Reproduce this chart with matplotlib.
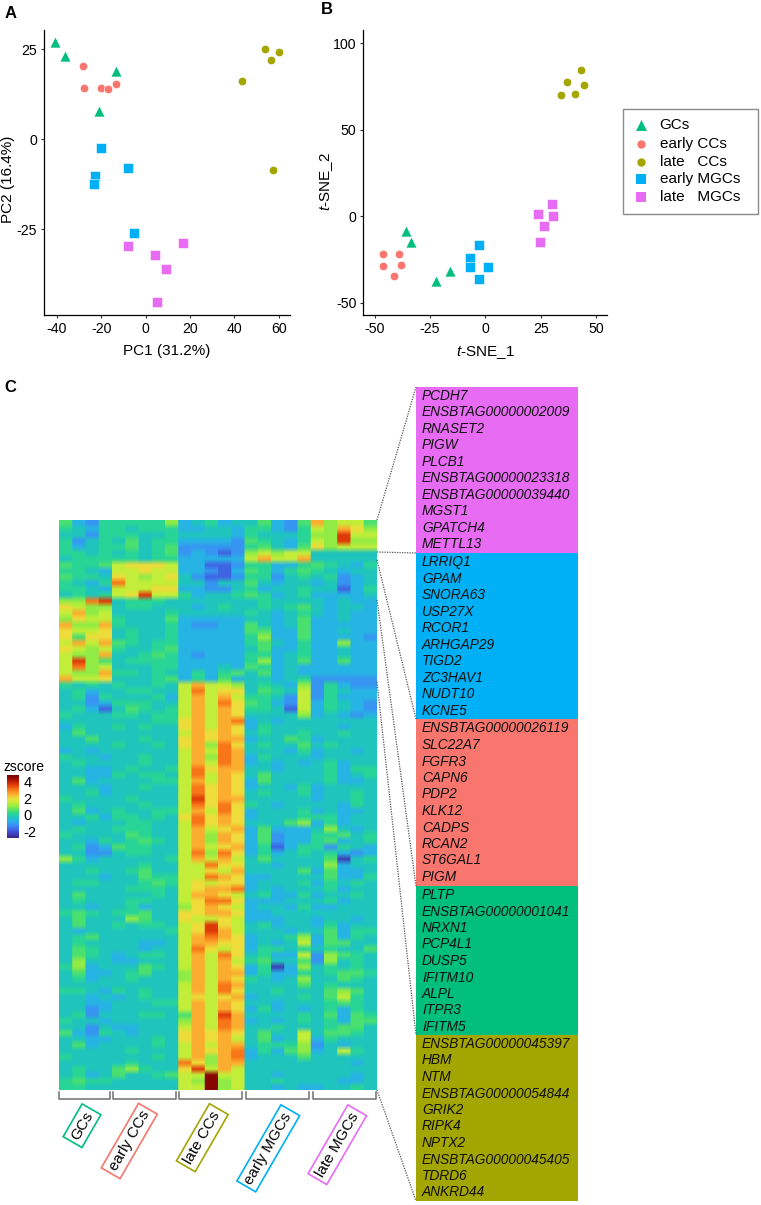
import numpy as np
import matplotlib
matplotlib.use("Agg")
import matplotlib.pyplot as plt
from matplotlib.colors import LinearSegmentedColormap, Normalize
from matplotlib.patches import Rectangle

plt.rcParams['font.family'] = ['Liberation Sans', 'DejaVu Sans']
plt.rcParams['mathtext.fontset'] = 'custom'
plt.rcParams['mathtext.it'] = 'Liberation Sans:italic'
plt.rcParams['mathtext.rm'] = 'Liberation Sans'
plt.rcParams['axes.unicode_minus'] = False

W, H = 761, 1205

# ------------------------------------------------------------------ data
groups = ['GCs', 'early CCs', 'late   CCs', 'early MGCs', 'late   MGCs']
heat_labels = ['GCs', 'early CCs', 'late CCs', 'early MGCs', 'late MGCs']
colors = ['#00BF7D', '#F8766D', '#A3A500', '#00B0F6', '#E76BF3']
markers = ['^', 'o', 'o', 's', 's']
sizes = [62, 36, 36, 46, 46]

pc1 = [[-40.6, -36.1, -13.3, -21.1],
       [-28.3, -27.6, -19.9, -16.9, -13.5],
       [53.6, 56.4, 60.1, 43.2, 57.2],
       [-19.9, -8.1, -22.8, -23.4, -5.2],
       [-7.9, 4.4, 17.0, 9.3, 5.3]]
pc2 = [[27.0, 23.2, 19.0, 7.8],
       [20.5, 14.3, 14.3, 13.9, 15.5],
       [25.0, 22.0, 24.2, 16.1, -8.4],
       [-2.3, -8.0, -10.3, -12.5, -26.0],
       [-29.6, -32.1, -28.9, -36.0, -45.2]]
tsne1 = [[-36.0, -33.7, -16.0, -22.3],
         [-46.2, -39.2, -46.2, -38.1, -41.4],
         [43.4, 37.0, 44.6, 40.4, 34.2],
         [-2.7, -7.1, -6.9, 1.4, -2.7],
         [30.3, 23.9, 30.4, 26.4, 24.5]]
tsne2 = [[-8.7, -14.8, -31.4, -37.2],
         [-21.6, -21.6, -28.7, -28.1, -34.7],
         [84.6, 77.5, 75.6, 70.8, 69.8],
         [-16.8, -23.9, -29.1, -29.1, -36.2],
         [6.9, 1.3, 0.2, -5.8, -14.7]]

magenta_genes = ['PCDH7', 'ENSBTAG00000002009', 'RNASET2', 'PIGW', 'PLCB1',
                 'ENSBTAG00000023318', 'ENSBTAG00000039440', 'MGST1', 'GPATCH4', 'METTL13']
blue_genes = ['LRRIQ1', 'GPAM', 'SNORA63', 'USP27X', 'RCOR1', 'ARHGAP29', 'TIGD2',
              'ZC3HAV1', 'NUDT10', 'KCNE5']
salmon_genes = ['ENSBTAG00000026119', 'SLC22A7', 'FGFR3', 'CAPN6', 'PDP2', 'KLK12',
                'CADPS', 'RCAN2', 'ST6GAL1', 'PIGM']
green_genes = ['PLTP', 'ENSBTAG00000001041', 'NRXN1', 'PCP4L1', 'DUSP5', 'IFITM10',
               'ALPL', 'ITPR3', 'IFITM5']
olive_genes = ['ENSBTAG00000045397', 'HBM', 'NTM', 'ENSBTAG00000054844', 'GRIK2',
               'RIPK4', 'NPTX2', 'ENSBTAG00000045405', 'TDRD6', 'ANKRD44']

# z-score levels, one per hex digit in the heat rows
z_levels = [-2.4, -1.8, -1.2, -0.7, -0.3, 0.1, 0.5, 1.0, 1.5, 2.0, 2.5, 3.1, 3.7, 4.6]

# columns: GCs(4) earlyCC(5) lateCC(5) earlyMGC(5) lateMGC(5)
heat_rows = [
    "6325 55557 34534 46326 A7886",
    "5435 54555 33443 55325 87A97",
    "4425 55445 44443 54445 77C88",
    "5245 46455 33332 65435 87C77",
    "5345 56456 22222 56436 97888",
    "5545 45456 23212 78788 44444",
    "4555 55455 33333 8A88A 44444",
    "6556 89998 33112 55335 65435",
    "5543 88988 33213 65356 54344",
    "6554 98789 42112 55245 45234",
    "5435 B8888 44244 64344 34234",
    "5543 88899 33224 53445 44135",
    "4545 89C88 53445 65345 33334",
    "77BC 45554 44444 45444 43433",
    "9877 45544 43454 45456 43443",
    "8A78 44445 44444 54345 43433",
    "7988 54446 33333 44346 33433",
    "A77A 54445 32233 64346 33333",
    "9889 45445 33333 66336 33433",
    "9699 45445 33333 57336 33332",
    "8A8A 65455 33333 56435 33733",
    "9878 54456 33333 46335 33433",
    "877A 44565 32333 55345 33433",
    "8C76 45555 33333 57346 33633",
    "8B78 44455 33343 65343 33333",
    "877A 55454 35356 46343 33333",
    "A889 44456 35363 44345 22222",
    "5454 54454 8A887 45437 25322",
    "4534 45544 8B899 46548 25433",
    "4525 44453 8A8A8 55428 25333",
    "4423 55544 8A8B9 65328 35432",
    "4531 46545 8A8A9 55418 35432",
    "5444 55455 8A8A9 44447 34323",
    "4444 44455 9A8AB 34344 44444",
    "3544 54544 9A8A9 35444 44344",
    "4644 44444 8A9A9 45445 44544",
    "4464 44544 9A9AA 34465 34444",
    "4444 54454 9A7B9 45446 45444",
    "3434 44444 8A8BA 44435 34434",
    "5443 44544 8A7BA 35444 34444",
    "4544 44544 8A8BA 34343 45344",
    "4433 45445 8B9AA 44344 45355",
    "4433 54554 8B8A9 46444 45345",
    "4634 44455 8A8A9 36444 45334",
    "4443 44544 8B9A9 34435 34444",
    "4453 44444 8B9A9 45445 34454",
    "5444 45444 8C9AA 44444 34454",
    "4544 44544 8B9B9 54344 44354",
    "4634 54455 8A8B9 34445 34334",
    "4453 55454 9B9A9 34445 55344",
    "4344 45544 8B9A9 44467 35344",
    "4544 55544 8A89A 36333 47434",
    "5444 46544 8A7A9 36233 55645",
    "4435 45654 8A7A9 36233 56345",
    "4523 65544 8A89A 35135 52543",
    "4422 45544 8B7B9 35345 45323",
    "7534 44445 8A8A8 46444 46045",
    "4444 44544 88B99 44344 47344",
    "4454 45644 8898A 44446 36334",
    "4443 44655 88BA9 33444 46335",
    "4554 44565 89899 34445 35454",
    "4444 45554 89AAB 34344 45344",
    "4644 44454 8AA98 45335 34454",
    "4544 45544 89BB9 33344 45344",
    "4434 45344 79A98 34435 33444",
    "5654 55644 99AA9 33444 44444",
    "4644 47644 98898 33344 34434",
    "4644 54554 89C98 45344 35344",
    "4344 44445 89CA8 44434 46355",
    "4564 44444 8ABA9 34457 36354",
    "4544 44334 8AA99 34348 36644",
    "4654 44344 8B989 35545 45446",
    "4654 34554 8A8B9 45338 27654",
    "4744 33444 8A8A8 56446 27454",
    "5734 44654 8A8A9 35037 45454",
    "4633 45644 7A8AA 35335 45665",
    "4534 45444 7A8A9 54347 44654",
    "4444 44444 8A8BA 44446 45444",
    "5543 54544 8A8B9 44544 46764",
    "4434 34544 8989A 34445 46854",
    "4433 44455 8A8A9 44344 45654",
    "4423 44444 8A8A9 35343 45354",
    "4524 44554 6A8CA 44445 46365",
    "5443 44444 7A8BA 34345 45366",
    "4424 33444 8A8BA 44544 45664",
    "6325 43444 9A9A9 46448 46654",
    "4433 44454 9A9A8 46348 35444",
    "4634 44454 8A8AA 45557 24344",
    "4444 45444 8A9AB 35367 34854",
    "5444 44454 8A7AB 34446 44444",
    "4444 45444 B97AA 44444 44434",
    "4544 67544 9C8A8 44444 44444",
    "4534 64456 88D88 44344 44434",
    "5655 44444 87D78 44544 44334",
    "5544 44444 88D78 44343 34454",
]

# ------------------------------------------------------------------ helpers
fig = plt.figure(figsize=(W / 100, H / 100), dpi=100, facecolor='white')


def px_axes(left, top, right, bottom, **kw):
    return fig.add_axes([left / W, 1 - bottom / H, (right - left) / W, (bottom - top) / H], **kw)


def scatter_panel(ax, xs, ys, xlim, ylim, xticks, yticks, xlabel, ylabel, xlab_y, ylab_x, ylab_y):
    for x, y, c, m, s in zip(xs, ys, colors, markers, sizes):
        ax.scatter(x, y, c=c, marker=m, s=s, linewidths=0.4, edgecolors='white', zorder=3)
    ax.set_xlim(*xlim)
    ax.set_ylim(*ylim)
    ax.set_xticks(xticks)
    ax.set_yticks(yticks)
    ax.set_xticklabels([str(v) for v in xticks])
    ax.set_yticklabels([str(v) for v in yticks])
    ax.spines[['top', 'right']].set_visible(False)
    for sp in ('left', 'bottom'):
        ax.spines[sp].set_linewidth(0.9)
    ax.tick_params(length=2.5, width=0.8, labelsize=10.2, pad=2.5, color='#333333')
    ax.set_xlabel(xlabel, fontsize=11)
    ax.set_ylabel(ylabel, fontsize=11)
    ax.xaxis.set_label_coords(0.5, xlab_y)
    ax.yaxis.set_label_coords(ylab_x, ylab_y)


# ------------------------------------------------------------------ panels A, B
axA = px_axes(44, 30, 290, 315)
scatter_panel(axA, pc1, pc2, (-45.7, 65), (-48.8, 30.4), [-40, -20, 0, 20, 40, 60], [-25, 0, 25],
              'PC1 (31.2%)', 'PC2 (16.4%)', -0.103, -0.118, 0.475)

axB = px_axes(363.3, 30, 606.7, 315)
scatter_panel(axB, tsne1, tsne2, (-55.1, 54.8), (-57.1, 107.6), [-50, -25, 0, 25, 50], [-50, 0, 50, 100],
              r'$\mathit{t}$-SNE_1', r'$\mathit{t}$-SNE_2', -0.103, -0.116, 0.47)

# ------------------------------------------------------------------ heatmap
z_nodes = [-2.8, -2.0, -1.3, -0.7, -0.3, 0.1, 0.5, 1.0, 1.5, 2.0, 2.5, 3.1, 3.7, 4.3, 4.85]
z_cols = ['#3b2a8c', '#3f55dc', '#3a90f5', '#26b4e4', '#1fc6bb', '#28d497', '#4ae070', '#8fec45',
          '#c4ee38', '#eedc3a', '#fcae30', '#f87818', '#e03a08', '#a81004', '#700000']
zmin, zmax = z_nodes[0], z_nodes[-1]
cmap = LinearSegmentedColormap.from_list('z', [((v - zmin) / (zmax - zmin), c) for v, c in zip(z_nodes, z_cols)])
norm = Normalize(zmin, zmax)

matrix = np.array([[z_levels[int(ch, 16)] for ch in row.replace(' ', '')] for row in heat_rows])
axH = px_axes(59, 520, 377, 1090)
# columns are repeated so that the soft interpolation only blends between rows
im = axH.imshow(np.repeat(matrix, 13, axis=1), aspect='auto', cmap=cmap, norm=norm, interpolation='bilinear')
axH.set_axis_off()

# colour bar
cax = px_axes(6.7, 775, 19.3, 837.7)
cb = fig.colorbar(im, cax=cax, ticks=[4, 2, 0, -2])
cb.outline.set_visible(False)
cb.ax.tick_params(length=0, labelsize=10.5, pad=3)

# ------------------------------------------------------------------ overlay in pixel coordinates
ov = fig.add_axes([0, 0, 1, 1], zorder=5)
ov.set_xlim(0, W)
ov.set_ylim(H, 0)
ov.set_axis_off()
ov.patch.set_alpha(0)

for s, x, y in (('A', 5, 13), ('B', 321, 10), ('C', 4, 388)):
    ov.text(x, y, s, fontsize=12, fontweight='bold', ha='left', va='center')

ov.text(3, 767, 'zscore', fontsize=10, ha='left', va='center')

# legend box
ov.add_patch(Rectangle((622.7, 108.7), 135.6, 105.3, fc='white', ec='#8a8a8a', lw=1.0))
for name, c, m, s, y in zip(groups, colors, markers, sizes, (125, 144, 162, 179, 197)):
    ov.scatter([641], [y], c=c, marker=m, s=s, linewidths=0)
    ov.text(659.7, y, name, fontsize=11, ha='left', va='center')

# gene panels
panels = [(387, 553, colors[4], magenta_genes, 395.7),
          (553, 719, colors[3], blue_genes, 562.3),
          (719, 886, colors[1], salmon_genes, 728.5),
          (886, 1035, colors[0], green_genes, 895),
          (1035, 1201, colors[2], olive_genes, 1044)]
for top, bot, c, genes, first in panels:
    ov.add_patch(Rectangle((416, top), 162, bot - top, fc=c, ec='none'))
    for i, g in enumerate(genes):
        ov.text(422, first + i * 16.5, g, fontsize=9.9, style='italic', ha='left', va='center', color='#111111')

# connectors
for y0, y1 in ((520, 387), (552, 553), (560, 719), (600, 886), (682, 1035), (1090, 1201)):
    ov.plot([377, 416], [y0, y1], color='#555555', lw=0.9, ls=(0, (1, 1)))

# brackets
bx = [(59, 110), (112.7, 175.7), (179, 242.3), (246, 309.3), (312.7, 375.7)]
for x0, x1 in bx:
    ov.plot([x0, x0, x1, x1], [1091.7, 1099, 1099, 1091.7], color='#707070', lw=1.1)

# rotated group labels
for name, c, (x, y) in zip(heat_labels, colors,
                           ((82, 1125.7), (129.3, 1141), (202.3, 1137.7), (268.3, 1148.3), (337.3, 1144.7))):
    ov.text(x, y, name, rotation=60, rotation_mode='anchor', fontsize=11, ha='center', va='center',
            bbox=dict(boxstyle='square,pad=0.25', fc='white', ec=c, lw=1.2))

fig.savefig('out.png', dpi=100, facecolor='white')
